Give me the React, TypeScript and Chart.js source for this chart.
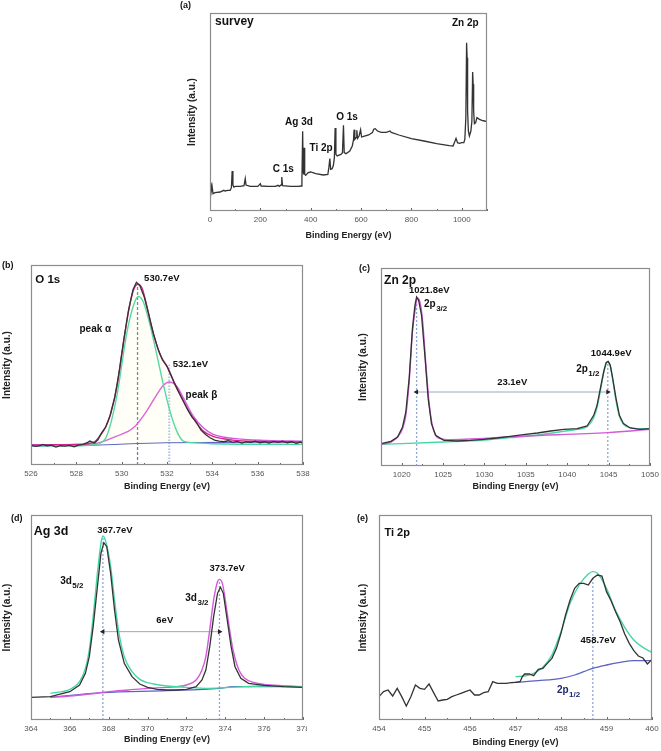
import React, { useEffect, useRef } from 'react';
import { Chart, registerables } from 'chart.js';
Chart.register(...registerables);

const FONT = "'Liberation Sans', Arial, Helvetica, sans-serif";

// ---------- (a) survey ----------
const surveyEnergy = [0,3,5,8,12,20,40,55,60,70,80,85,88,91,95,100,120,135,140,143,160,190,200,203,230,260,270,275,282,285,288,320,350,362,365,368,370,372,374,376,380,390,400,420,450,468,472,476,479,485,490,494,497,500,505,510,520,526,530,533,540,555,565,570,572,575,580,583,586,592,598,602,610,630,645,650,656,665,680,700,715,720,750,800,850,900,950,965,972,977,983,990,1000,1008,1012,1016,1019,1021,1023,1026,1030,1036,1040,1043,1045,1047,1050,1055,1060,1070,1080,1090,1100];
const surveyCounts = [62,85,60,75,52,55,57,62,60,62,62,70,120,78,72,74,74,76,97,78,74,74,82,75,74,74,77,74,78,102,76,74,74,75,90,239,120,110,190,110,107,115,117,112,108,110,130,157,125,127,137,160,249,170,165,167,170,175,257,175,172,180,195,214,244,215,220,242,218,225,244,222,224,228,235,245,247,240,236,236,240,236,228,217,210,202,196,195,208,218,205,203,205,205,215,280,505,460,300,240,225,240,270,417,380,300,262,265,280,275,272,270,268];

// ---------- (b) O 1s ----------
const o1sEnergy = [526,526.2,526.4,526.5,526.7,526.9,527.1,527.3,527.5,527.7,527.9,528.1,528.3,528.5,528.6,528.8,528.95,529.1,529.3,529.5,529.7,529.9,530.1,530.3,530.5,530.65,530.8,531,531.2,531.4,531.6,531.8,532,532.15,532.3,532.5,532.7,532.9,533.1,533.25,533.35,533.5,533.7,533.9,534.1,534.3,534.5,534.7,534.9,535.1,535.3,535.5,535.7,535.9,536.1,536.3,536.5,536.7,536.9,537.1,537.3,537.5,537.7,537.9,538];
const o1sCounts = [60,56,58,62,58,60,54,58,57,59,55,60,62,68,72,66,76,95,115,150,205,285,380,465,528,550,540,505,452,395,350,316,297,275,250,222,195,168,145,133,122,105,92,82,75,72,70,73,68,71,66,70,68,72,67,70,66,71,68,72,67,70,65,69,64];
const o1sEnvEnergy = [526,527,528,528.5,528.8,529,529.3,529.5,529.8,530,530.3,530.5,530.7,530.9,531.1,531.3,531.5,531.7,532,532.2,532.5,532.8,533,533.3,533.6,534,534.5,535,536,537,538];
const o1sEnvelope = [60,61,62,64,70,84,115,152,240,332,462,522,544,532,482,422,372,332,297,267,222,182,157,127,102,87,79,74,71,70,69];
const o1sAlphaEnergy = [526,528,528.7,529,529.34,529.78,530.22,530.52,530.74,530.96,531.25,531.55,531.84,532.13,532.43,532.72,533.16,534,538];
const o1sAlpha = [58,58,60,64,87,205,395,480,507,490,422,332,242,162,102,72,67,64,62];
const o1sBetaEnergy = [526,527,528,528.76,529.78,530.52,531.1,531.55,531.84,532.1,532.43,532.72,533.16,533.6,534.04,534.92,536.39,538];
const o1sBeta = [60,61,62,64,87,112,162,212,240,250,237,202,147,112,92,80,74,72];
const o1sBaseEnergy = [526,528.76,531.9,538];
const o1sBase = [57,60,67,69];
const o1sPeakEnergy = [530.7, 532.1];
const o1sPeakTop = [544, 302];

// ---------- (c) Zn 2p ----------
const znEnergy = [1017.5,1018.7,1019.5,1020.1,1020.5,1020.9,1021.3,1021.6,1021.8,1022.05,1022.4,1022.8,1023.2,1023.6,1024.1,1025.1,1026.7,1028.3,1029.9,1031.5,1033.1,1034.7,1036.4,1038,1039.6,1041.2,1042.4,1043.2,1043.6,1044,1044.4,1044.7,1044.95,1045.2,1045.5,1045.9,1046.3,1046.8,1047.6,1048.8,1050];
const znCounts = [67,74,87,117,162,262,412,482,507,497,452,332,202,127,92,77,75,77,80,84,89,94,99,105,110,112,120,152,182,232,282,310,314,302,262,202,152,127,114,110,112];
const zn32Energy = [1017.5,1018.7,1019.5,1020.1,1020.5,1020.9,1021.3,1021.7,1021.85,1022.2,1022.5,1022.9,1023.3,1023.7,1024.1,1024.7,1025.9,1035,1044.9,1050];
const zn32Fit = [65,72,87,112,152,252,402,482,504,492,442,312,192,122,92,82,79,90,100,110];
const zn12Energy = [1017.5,1025,1030,1033.1,1036.4,1039.6,1041.2,1042.4,1043.2,1043.6,1044,1044.4,1044.7,1044.9,1045.2,1045.5,1045.9,1046.3,1046.8,1047.6,1048.8,1050];
const zn12Fit = [65,72,78,85,93,104,110,118,145,175,225,280,308,314,300,258,195,150,125,115,112,112];
const znPeakEnergy = [1021.8, 1044.9];
const znPeakTop = [504, 312];
const znSplitLevel = 222;

// ---------- (d) Ag 3d ----------
const agEnergy = [364,365,366,366.5,366.8,367,367.2,367.4,367.6,367.75,367.9,368.1,368.3,368.5,368.8,369.2,369.6,370,370.5,371,371.5,372,372.5,372.8,373,373.2,373.4,373.6,373.75,373.9,374.1,374.3,374.5,374.8,375.2,376,377,378];
const agCounts = [68,70,85,105,140,190,280,390,500,532,520,440,330,240,170,130,108,98,92,90,90,92,100,120,150,220,310,380,398,380,300,220,160,125,110,104,100,98];
const ag52Energy = [365,366,366.5,366.8,367,367.2,367.4,367.6,367.7,367.85,368.1,368.3,368.5,368.8,369.2,369.6,370,371,372,373,374,375,376,378];
const ag52Fit = [80,92,115,155,210,310,430,530,552,535,460,360,270,190,145,122,112,102,98,95,97,100,102,100];
const ag32Energy = [365,366,367,368,369,370,371,372,372.5,372.8,373,373.2,373.4,373.6,373.7,373.85,374,374.2,374.4,374.7,375,375.5,376,377,378];
const ag32Fit = [68,72,78,85,90,95,98,105,120,150,190,270,360,415,422,410,360,280,210,150,125,112,107,103,100];
const agBaseEnergy = [365,367.7,371,373.7,374.4,378];
const agBase = [68,82,88,95,100,100];
const agPeakEnergy = [367.7, 373.7];
const agPeakTop = [552, 422];
const agSplitLevel = 265;

// ---------- (e) Ti 2p ----------
const tiEnergy = [454,454.1,454.2,454.3,454.4,454.5,454.6,454.7,454.8,454.9,455,455.1,455.2,455.3,455.4,455.5,455.6,455.7,455.8,455.9,456,456.1,456.2,456.3,456.4,456.5,456.6,456.7,456.8,456.9,457,457.1,457.15,457.2,457.3,457.4,457.5,457.6,457.7,457.8,457.9,458,458.1,458.2,458.3,458.4,458.5,458.6,458.7,458.8,458.9,459,459.1,459.2,459.3,459.4,459.5,459.6,459.7,459.8,459.9,460];
const tiCounts = [70,85,90,72,95,70,42,70,105,95,92,108,82,57,60,62,70,75,80,85,90,75,75,82,85,115,110,110,110,112,113,115,130,138,138,133,152,155,170,185,215,260,315,360,395,410,410,405,425,435,432,385,358,325,295,258,230,208,192,186,168,182];
const tiFitEnergy = [457,457.2,457.4,457.6,457.8,458,458.2,458.4,458.6,458.7,458.8,459,459.2,459.4,459.6,459.8,460];
const tiFit = [130,132,140,158,195,265,350,405,438,445,440,395,328,278,240,218,203];
const tiBaseEnergy = [456.9,457.5,458,458.3,458.5,458.7,459,459.3,459.6,460];
const tiBase = [112,118,125,135,145,155,165,173,178,178];
const tiPeakEnergy = [458.7];
const tiPeakTop = [425];

// ---------- styles ----------
const C_DATA = '#333333';
const C_GREEN = '#46d6a4';
const C_MAGENTA = '#d35ad9';
const C_ENVELOPE = '#d8228f';
const C_BASE = '#5b62c6';
const C_DROP = '#8ea6d4';

const mk = (xs: number[], ys: number[]) => xs.map((x, i) => ({ x, y: ys[i] }));

const dataLine = (xs: number[], ys: number[]) => ({
  data: mk(xs, ys), borderColor: C_DATA, borderWidth: 1.3, tension: 0, pointRadius: 0,
});
const fitLine = (xs: number[], ys: number[], color: string, extra: any = {}) => ({
  data: mk(xs, ys), borderColor: color, borderWidth: 1.4, cubicInterpolationMode: 'monotone', pointRadius: 0, ...extra,
});
const dropLines = (xs: number[], tops: number[], color: string, dash: number[], width = 1.3) =>
  xs.map((x, i) => ({
    data: [{ x, y: 0 }, { x, y: tops[i] }], borderColor: color, borderWidth: width, borderDash: dash, pointRadius: 0,
  }));
const splitArrow = (xs: number[], level: number) => ({
  data: [{ x: xs[0], y: level }, { x: xs[1], y: level }],
  borderColor: '#9aa7bf', borderWidth: 1,
  pointStyle: 'triangle', pointRadius: 3, pointRotation: [-90, 90],
  pointBackgroundColor: '#222', pointBorderColor: '#222', pointBorderWidth: 0,
});

interface Note { text: string; sub?: string; x: number; y: number; size: number; color?: string; }
interface Panel {
  box: number[]; pad: number[];
  xMin: number; xMax: number; yMax: number; step: number; labelStep: number;
  datasets: any[]; notes: Note[];
}

const panels: Panel[] = [
  {
    box: [210, 13, 487, 211], pad: [24, 13, 10, 30],
    xMin: 0, xMax: 1100, yMax: 594, step: 100, labelStep: 200,
    datasets: [dataLine(surveyEnergy, surveyCounts)],
    notes: [
      { text: 'survey', x: 20, y: 569, size: 12 },
      { text: 'Zn 2p', x: 961, y: 562, size: 10 },
      { text: 'Ag 3d', x: 298, y: 267, size: 10 },
      { text: 'Ti 2p', x: 395, y: 187, size: 10 },
      { text: 'O 1s', x: 501, y: 282, size: 10 },
      { text: 'C 1s', x: 249, y: 124, size: 10 },
    ],
  },
  {
    box: [31, 265, 303, 465], pad: [30, 10, 10, 27],
    xMin: 526, xMax: 538, yMax: 602, step: 1, labelStep: 2,
    datasets: [
      dataLine(o1sEnergy, o1sCounts),
      fitLine(o1sEnvEnergy, o1sEnvelope, C_ENVELOPE, { fill: 4, backgroundColor: 'rgba(255,240,170,0.09)' }),
      fitLine(o1sAlphaEnergy, o1sAlpha, C_GREEN),
      fitLine(o1sBetaEnergy, o1sBeta, C_MAGENTA),
      fitLine(o1sBaseEnergy, o1sBase, C_BASE, { borderWidth: 1.2 }),
      dropLines([o1sPeakEnergy[0]], [o1sPeakTop[0]], '#6d7fa6', [3, 2])[0],
      dropLines([o1sPeakEnergy[1]], [o1sPeakTop[1]], '#aac2ea', [1.5, 1.5], 2)[0],
    ],
    notes: [
      { text: 'O 1s', x: 526.19, y: 557, size: 11.5 },
      { text: '530.7eV', x: 530.99, y: 562, size: 9.5 },
      { text: 'peak α', x: 528.14, y: 410, size: 10 },
      { text: '532.1eV', x: 532.25, y: 302, size: 9.5 },
      { text: 'peak β', x: 532.82, y: 210, size: 10 },
    ],
  },
  {
    box: [381, 268, 650, 466], pad: [24, 10, 11, 26],
    xMin: 1017.5, xMax: 1050, yMax: 594, step: 2.5, labelStep: 5,
    datasets: [
      dataLine(znEnergy, znCounts),
      fitLine(zn32Energy, zn32Fit, C_MAGENTA),
      fitLine(zn12Energy, zn12Fit, C_GREEN),
      splitArrow(znPeakEnergy, znSplitLevel),
      ...dropLines(znPeakEnergy, znPeakTop, C_DROP, [2, 2]),
    ],
    notes: [
      { text: 'Zn 2p', x: 1017.87, y: 557, size: 12 },
      { text: '1021.8eV', x: 1020.88, y: 527, size: 9.5 },
      { text: '2p', sub: '3/2', x: 1022.69, y: 484, size: 10 },
      { text: '1044.9eV', x: 1042.85, y: 339, size: 9.5 },
      { text: '2p', sub: '1/2', x: 1041.08, y: 289, size: 10 },
      { text: '23.1eV', x: 1031.53, y: 252, size: 9.5 },
    ],
  },
  {
    box: [31, 515, 304, 720], pad: [30, 10, 3, 25],
    xMin: 364, xMax: 378, yMax: 615, step: 1, labelStep: 2,
    datasets: [
      dataLine(agEnergy, agCounts),
      fitLine(ag52Energy, ag52Fit, C_GREEN),
      fitLine(ag32Energy, ag32Fit, C_MAGENTA),
      fitLine(agBaseEnergy, agBase, C_BASE, { borderWidth: 1.2 }),
      splitArrow(agPeakEnergy, agSplitLevel),
      ...dropLines(agPeakEnergy, agPeakTop, C_DROP, [2, 2]),
    ],
    notes: [
      { text: 'Ag 3d', x: 364.14, y: 565, size: 12.5 },
      { text: '367.7eV', x: 367.41, y: 568, size: 9.5 },
      { text: '3d', sub: '5/2', x: 365.5, y: 415, size: 10 },
      { text: '373.7eV', x: 373.19, y: 455, size: 9.5 },
      { text: '3d', sub: '3/2', x: 371.94, y: 364, size: 10 },
      { text: '6eV', x: 370.45, y: 298, size: 9.5 },
    ],
  },
  {
    box: [379, 515, 652, 720], pad: [22, 10, 9, 28],
    xMin: 454, xMax: 460, yMax: 615, step: 0.5, labelStep: 1,
    datasets: [
      dataLine(tiEnergy, tiCounts),
      fitLine(tiFitEnergy, tiFit, C_GREEN),
      fitLine(tiBaseEnergy, tiBase, C_BASE, { borderWidth: 1.3 }),
      ...dropLines(tiPeakEnergy, tiPeakTop, C_DROP, [2, 2]),
    ],
    notes: [
      { text: 'Ti 2p', x: 454.12, y: 560, size: 11 },
      { text: '458.7eV', x: 458.43, y: 238, size: 9.5 },
      { text: '2p', sub: '1/2', x: 457.91, y: 88, size: 10, color: '#1f2a6e' },
    ],
  },
];

const panelLetters = [
  { text: '(a)', left: 180, top: 0 },
  { text: '(b)', left: 2, top: 260 },
  { text: '(c)', left: 359, top: 263 },
  { text: '(d)', left: 11, top: 513 },
  { text: '(e)', left: 357, top: 513 },
];

const isLabel = (v: number, ls: number) => Math.abs(v / ls - Math.round(v / ls)) < 1e-6;

function PanelChart({ p }: { p: Panel }) {
  const ref = useRef<HTMLCanvasElement>(null);
  const [l, t, r, b] = p.box;
  const [pl, pt, pr, pb] = p.pad;
  const w = r - l + pl + pr;
  const h = b - t + pt + pb;

  useEffect(() => {
    const deco = {
      id: 'deco',
      afterDraw(chart: any) {
        const { ctx, chartArea: a, scales } = chart;
        const xs = scales.x, ys = scales.y;
        ctx.save();
        ctx.strokeStyle = '#666';
        ctx.lineWidth = 1;
        xs.ticks.forEach((tk: any) => {
          const px = Math.round(xs.getPixelForValue(tk.value)) + 0.5;
          const major = isLabel(tk.value, p.labelStep);
          ctx.beginPath();
          ctx.moveTo(px, a.bottom);
          ctx.lineTo(px, a.bottom - (major ? 3 : 2));
          ctx.stroke();
        });
        ctx.strokeStyle = '#8c8c8c';
        ctx.lineWidth = 1.2;
        ctx.strokeRect(a.left + 0.5, a.top + 0.5, a.right - a.left - 1, a.bottom - a.top - 1);
        p.notes.forEach((n) => {
          const px = xs.getPixelForValue(n.x);
          const py = ys.getPixelForValue(n.y);
          ctx.fillStyle = n.color || '#111';
          ctx.font = `bold ${n.size}px ${FONT}`;
          ctx.textBaseline = 'middle';
          ctx.textAlign = 'left';
          ctx.fillText(n.text, px, py);
          if (n.sub) {
            const tw = ctx.measureText(n.text).width;
            ctx.font = `bold ${n.size * 0.8}px ${FONT}`;
            ctx.fillText(n.sub, px + tw + 0.5, py + n.size * 0.38);
          }
        });
        ctx.restore();
      },
    };

    const chart = new Chart(ref.current as HTMLCanvasElement, {
      type: 'line',
      data: { datasets: p.datasets },
      options: {
        animation: false,
        responsive: false,
        devicePixelRatio: 1,
        layout: { padding: { left: 0, top: pt, right: pr, bottom: 0 } },
        plugins: { legend: { display: false }, tooltip: { enabled: false } },
        elements: { point: { radius: 0 }, line: { fill: false } },
        scales: {
          x: {
            type: 'linear', min: p.xMin, max: p.xMax,
            grid: { display: false, drawTicks: false },
            border: { display: false },
            ticks: {
              stepSize: p.step, autoSkip: false, maxRotation: 0, padding: 4,
              color: '#555', font: { family: FONT, size: 8 },
              callback: (v: any) => (isLabel(Number(v), p.labelStep) ? String(Math.round(Number(v))) : ''),
            },
            title: {
              display: true, text: 'Binding Energy (eV)', color: '#222', padding: 0,
              font: { family: FONT, size: 9, weight: 'bold' },
            },
            afterFit: (s: any) => { s.height = pb; s.paddingLeft = 0; s.paddingRight = 0; },
          },
          y: {
            type: 'linear', min: 0, max: p.yMax,
            ticks: { display: false },
            grid: { display: false, drawTicks: false },
            border: { display: false },
            title: {
              display: true, text: 'Intensity (a.u.)', color: '#222', padding: 0,
              font: { family: FONT, size: 10, weight: 'bold' },
            },
            afterFit: (s: any) => { s.width = pl; },
          },
        },
      } as any,
      plugins: [deco],
    });
    return () => chart.destroy();
  }, []);

  return (
    <canvas
      ref={ref}
      width={w}
      height={h}
      style={{ position: 'absolute', left: l - pl, top: t - pt, width: w, height: h }}
    />
  );
}

export default function App() {
  return (
    <div style={{ position: 'absolute', left: 0, top: 0, width: 661, height: 751, background: '#fff', overflow: 'hidden' }}>
      {panels.map((p, i) => <PanelChart key={i} p={p} />)}
      {panelLetters.map((pl) => (
        <div
          key={pl.text}
          style={{ position: 'absolute', left: pl.left, top: pl.top, font: `bold 9px ${FONT}`, lineHeight: '10px', color: '#111' }}
        >
          {pl.text}
        </div>
      ))}
    </div>
  );
}
